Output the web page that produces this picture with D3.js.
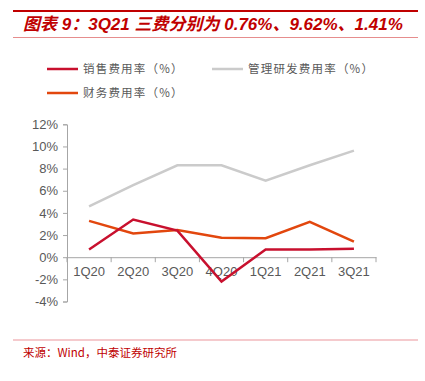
<!DOCTYPE html>
<html>
<head>
<meta charset="utf-8">
<script src="https://cdn.jsdelivr.net/npm/d3@7"></script>
<style>
  body { margin: 0; background: #fff; }
  svg { display: block; }
</style>
</head>
<body>
<div id="chart"></div>
<script>
// data
const quarters = ["1Q20", "2Q20", "3Q20", "4Q20", "1Q21", "2Q21", "3Q21"];
const salesRate = [0.7, 3.4, 2.4, -2.2, 0.7, 0.7, 0.76];
const mgmtRate = [4.6, 6.5, 8.3, 8.3, 6.9, 8.3, 9.62];
const finRate = [3.28, 2.14, 2.45, 1.75, 1.72, 3.2, 1.41];
const yTicks = [-4, -2, 0, 2, 4, 6, 8, 10, 12];

const series = [
  { name: "销售费用率（%）", values: salesRate, color: "#c8102e" },
  { name: "管理研发费用率（%）", values: mgmtRate, color: "#cbcbcb" },
  { name: "财务费用率（%）", values: finRate, color: "#e2470e" }
];

const W = 425, H = 381;
const svg = d3.select("#chart").append("svg")
  .attr("width", W).attr("height", H);

// title block
svg.append("line").attr("x1", 13).attr("x2", 418).attr("y1", 11).attr("y2", 11)
  .attr("stroke", "#c00000").attr("stroke-width", 2);
svg.append("text").text("图表 9：3Q21 三费分别为 0.76%、9.62%、1.41%")
  .attr("x", 23).attr("y", 30)
  .style("font-family", "'Liberation Sans', 'Noto Sans CJK SC', sans-serif")
  .style("font-size", "17px").style("font-weight", "bold").style("font-style", "italic")
  .style("fill", "#c00000");
svg.append("line").attr("x1", 13).attr("x2", 418).attr("y1", 37.5).attr("y2", 37.5)
  .attr("stroke", "#e07070").attr("stroke-width", 0.8);

// legend
const legendPos = [[47, 69], [212, 69], [47, 93]];
series.forEach((s, i) => {
  const [lx, ly] = legendPos[i];
  svg.append("line").attr("x1", lx).attr("x2", lx + 31).attr("y1", ly).attr("y2", ly)
    .attr("stroke", s.color).attr("stroke-width", 2.5);
  svg.append("text").text(s.name)
    .attr("x", lx + 36).attr("y", ly + 4)
    .style("font-family", "'Noto Sans CJK SC', sans-serif")
    .style("font-size", "11.5px").style("letter-spacing", "1.2px")
    .style("fill", "#595959");
});

// scales
const x = d3.scaleBand().domain(quarters).range([67, 376]);
const y = d3.scaleLinear().domain([-4, 12]).range([301.5, 124.3]);

const axisFont = "'Liberation Sans', Arial, sans-serif";

// y axis
const yAxis = svg.append("g")
  .attr("transform", "translate(67,0)")
  .call(d3.axisLeft(y).tickValues(yTicks).tickSize(4).tickPadding(5).tickFormat(d => d + "%"));
yAxis.select(".domain").attr("stroke", "#a6a6a6");
yAxis.selectAll(".tick line").attr("stroke", "#a6a6a6");
yAxis.selectAll("text").style("font-family", axisFont).style("font-size", "13px").style("fill", "#595959");

// x axis at zero
const xAxis = svg.append("g")
  .attr("transform", `translate(0,${y(0)})`)
  .call(d3.axisBottom(x).tickSize(0).tickPadding(10));
xAxis.select(".domain").attr("stroke", "#a6a6a6");
xAxis.selectAll("text").style("font-family", axisFont).style("font-size", "13px").style("fill", "#595959");
// tick marks at band edges
const edges = quarters.map(q => x(q)).concat([x.range()[1]]);
svg.append("g").selectAll("line").data(edges).join("line")
  .attr("x1", d => d).attr("x2", d => d)
  .attr("y1", y(0)).attr("y2", y(0) + 5)
  .attr("stroke", "#a6a6a6");

// lines
const line = d3.line()
  .x((d, i) => x(quarters[i]) + x.bandwidth() / 2)
  .y(d => y(d));

svg.append("g").selectAll("path").data([series[1], series[2], series[0]]).join("path")
  .attr("d", s => line(s.values))
  .attr("fill", "none")
  .attr("stroke", s => s.color)
  .attr("stroke-width", 2.5)
  .attr("stroke-linejoin", "miter");

// source
svg.append("line").attr("x1", 13).attr("x2", 418).attr("y1", 340).attr("y2", 340)
  .attr("stroke", "#f2b8bc").attr("stroke-width", 1.5);
svg.append("text").text("来源：Wind，中泰证券研究所")
  .attr("x", 23).attr("y", 357)
  .style("font-family", "'Noto Sans CJK SC', monospace")
  .style("font-size", "11.5px")
  .style("fill", "#c00000");
</script>
</body>
</html>
